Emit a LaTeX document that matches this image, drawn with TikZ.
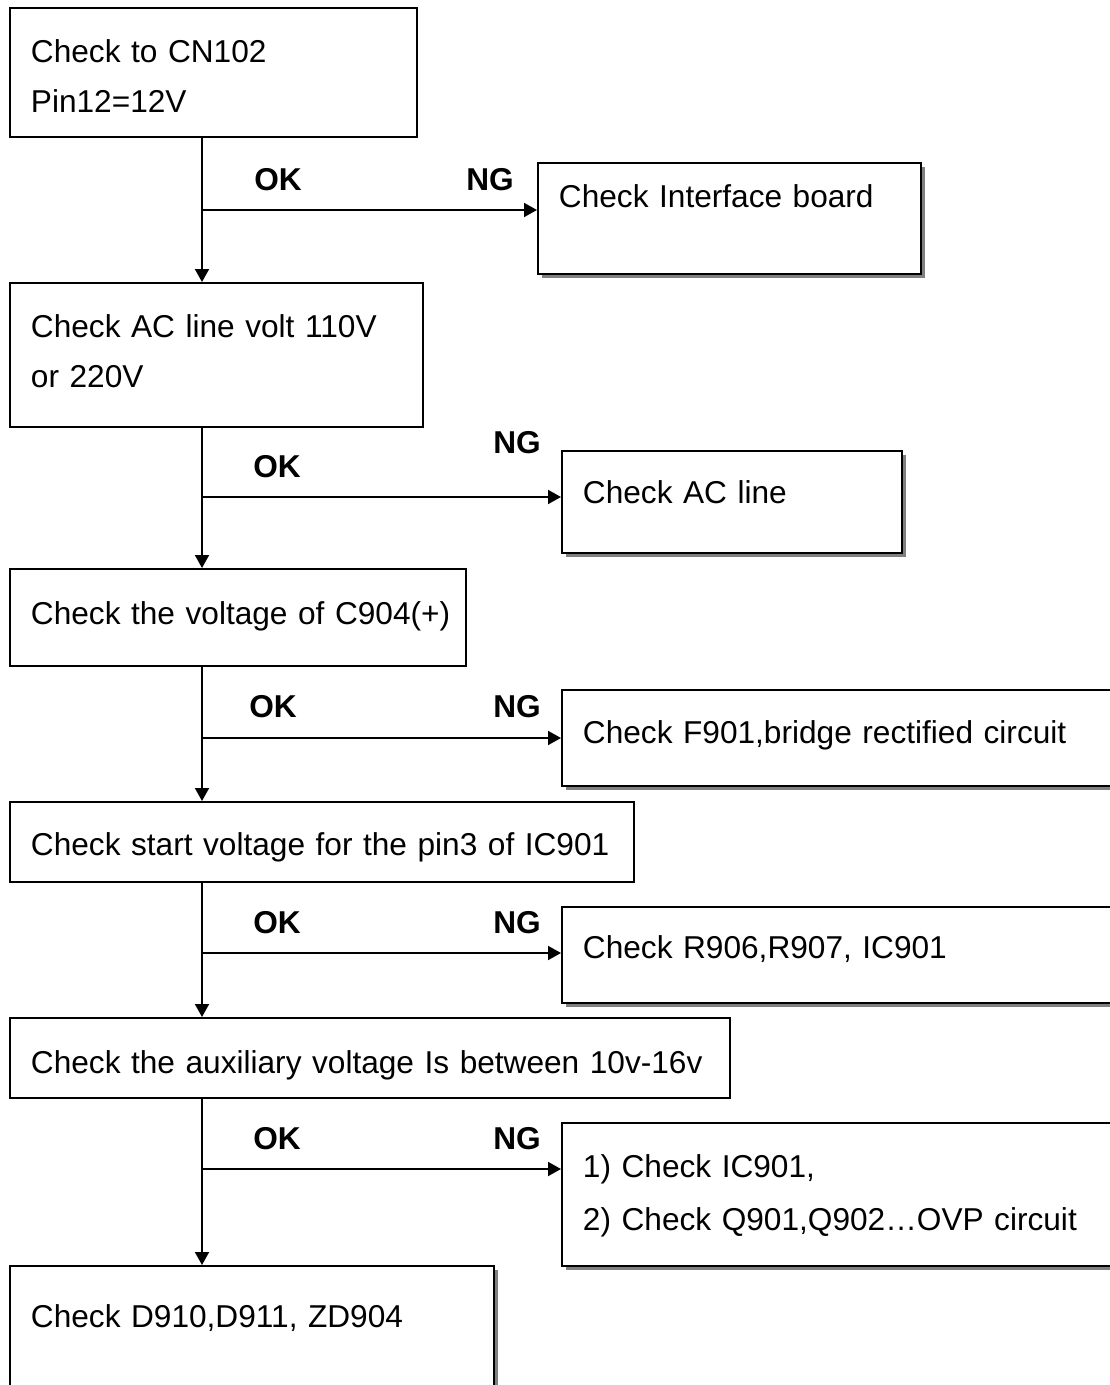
\documentclass[tikz,border=0pt]{standalone}
\usepackage{fontspec}
\setmainfont{Liberation Sans}
\usetikzlibrary{arrows.meta,shadows}
\tikzset{
  chkbox/.style  = {rectangle, draw=black, line width=1.1pt, fill=white,
                    anchor=north west, align=left, inner xsep=0.42cm, inner ysep=0pt,
                    font=\fontsize{18}{28.45}\selectfont},
  fixbox/.style  = {chkbox, drop shadow={shadow xshift=0.09cm, shadow yshift=-0.09cm,
                    fill=black!50, opacity=1}},
  chkflow/.style = {-{Triangle[length=0.26cm,width=0.28cm]}, line width=1.1pt},
  chklbl/.style  = {font=\fontsize{18}{22}\selectfont\bfseries, inner sep=0pt},
}

\begin{document}
\begin{tikzpicture}[x=0.02cm,y=-0.02cm]
  \useasboundingbox (0,0) rectangle (1109,1385);

  % main checks, down the left
  \node[chkbox, text width=7.30cm, text height=1.10cm, text depth=1.48cm] (cn)  at (9,7)
       {Check to CN102\\Pin12=12V};
  \node[chkbox, text width=7.42cm, text height=1.10cm, text depth=1.78cm] (acv) at (9,282)
       {Check AC line volt 110V\\or 220V};
  \node[chkbox, text width=8.28cm, text height=1.12cm, text depth=0.82cm] (cap) at (9,568)
       {\mbox{Check the voltage of C904(+)}};
  \node[chkbox, text width=11.64cm, text height=1.08cm, text depth=0.52cm] (start) at (9,801)
       {\mbox{Check start voltage for the pin3 of IC901}};
  \node[chkbox, text width=13.56cm, text height=1.12cm, text depth=0.48cm] (aux) at (9,1017)
       {\mbox{Check the auxiliary voltage Is between 10v-16v}};
  \node[chkbox, text width=8.84cm, text height=1.24cm, text depth=1.46cm,
        drop shadow={shadow xshift=0.09cm, shadow yshift=-0.09cm, fill=black!50, opacity=1}]
       (diode) at (9,1265) {Check D910,D911, ZD904};

  % what to fix when NG
  \node[fixbox, text width=6.82cm, text height=0.90cm, text depth=1.32cm] (intf) at (537,162)
       {Check Interface board};
  \node[fixbox, text width=5.96cm, text height=1.06cm, text depth=0.98cm] (acl) at (561,450)
       {Check AC line};
  \node[fixbox, text width=10.34cm, text height=1.08cm, text depth=0.84cm] (brg) at (561,689)
       {Check F901,bridge rectified circuit};
  \node[fixbox, text width=10.34cm, text height=1.04cm, text depth=0.88cm] (res) at (561,906)
       {Check R906,R907, IC901};
  \node[fixbox, text width=10.34cm, text height=1.10cm, text depth=1.76cm] (ovp) at (561,1122)
       {1) Check IC901,\\[0.06cm]2) Check Q901,Q902\dots OVP circuit};

  % branch points on the trunk
  \coordinate (j1) at (202,210);
  \coordinate (j2) at (202,497);
  \coordinate (j3) at (202,738);
  \coordinate (j4) at (202,953);
  \coordinate (j5) at (202,1169);

  \node[chklbl] (ok1) at (278,180)  {OK};
  \node[chklbl] (ng1) at (490,180)  {NG};
  \node[chklbl] (ok2) at (277,467)  {OK};
  \node[chklbl] (ng2) at (517,443)  {NG};
  \node[chklbl] (ok3) at (273,707)  {OK};
  \node[chklbl] (ng3) at (517,707)  {NG};
  \node[chklbl] (ok4) at (277,923)  {OK};
  \node[chklbl] (ng4) at (517,923)  {NG};
  \node[chklbl] (ok5) at (277,1139) {OK};
  \node[chklbl] (ng5) at (517,1139) {NG};

  \draw[chkflow] (cn.south -| j1)    -- (acv.north -| j1);
  \draw[chkflow] (acv.south -| j1)   -- (cap.north -| j1);
  \draw[chkflow] (cap.south -| j1)   -- (start.north -| j1);
  \draw[chkflow] (start.south -| j1) -- (aux.north -| j1);
  \draw[chkflow] (aux.south -| j1)   -- (diode.north -| j1);

  \draw[chkflow] (j1) -- (j1 -| intf.west);
  \draw[chkflow] (j2) -- (j2 -| acl.west);
  \draw[chkflow] (j3) -- (j3 -| brg.west);
  \draw[chkflow] (j4) -- (j4 -| res.west);
  \draw[chkflow] (j5) -- (j5 -| ovp.west);
\end{tikzpicture}
\end{document}
